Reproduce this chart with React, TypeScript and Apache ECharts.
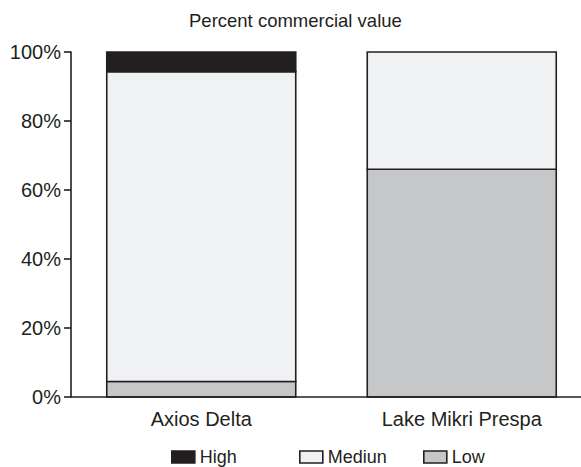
import React, { useEffect, useRef } from "react";
import * as echarts from "echarts";

const categories = ["Axios Delta", "Lake Mikri Prespa"];
const highValues = [5.7, 0];
const mediumValues = [89.8, 34];
const lowValues = [4.5, 66];
const yTicks = [0, 20, 40, 60, 80, 100];

const FONT = "'Liberation Sans', Arial, Helvetica, sans-serif";
const INK = "#231f20";
const LOW_FILL = "#c6c7c9";
const MED_FILL = "#f0f1f3";
const BAR_WIDTH = 189;
const BORDER = 1.6;

export default function App() {
  const ref = useRef<HTMLDivElement>(null);
  useEffect(() => {
    if (!ref.current) return;
    const chart = echarts.init(ref.current, undefined, { renderer: "svg" });

    const makeSeries = (name: string, values: number[], bases: number[], fill: string) => ({
      name,
      type: "custom",
      data: values.map((v, i) => [i, bases[i] + v, bases[i]]),
      encode: { x: 0, y: 1 },
      itemStyle: { color: fill, borderColor: INK, borderWidth: BORDER },
      renderItem: (params: any, api: any) => {
        const cat = api.value(0);
        const top = api.value(1);
        const base = api.value(2);
        if (top - base <= 0) return null;
        const pTop = api.coord([cat, top]);
        const pBase = api.coord([cat, base]);
        return {
          type: "rect",
          shape: {
            x: pTop[0] - BAR_WIDTH / 2,
            y: pTop[1],
            width: BAR_WIDTH,
            height: pBase[1] - pTop[1],
          },
          style: { fill, stroke: INK, lineWidth: BORDER },
        };
      },
    });

    const zeros = categories.map(() => 0);
    const medBase = lowValues.slice();
    const highBase = lowValues.map((v, i) => v + mediumValues[i]);

    const legendBase = {
      orient: "horizontal",
      top: 448,
      padding: 0,
      icon: "rect",
      itemWidth: 23,
      itemHeight: 12,
      textStyle: { fontFamily: FONT, fontSize: 18, color: INK },
    };
    chart.setOption({
      animation: false,
      backgroundColor: "#ffffff",
      title: {
        text: "Percent commercial value",
        left: 189,
        top: 11,
        padding: 0,
        textStyle: { fontFamily: FONT, fontSize: 18.5, fontWeight: "normal", color: INK },
      },
      legend: [
        {
          ...legendBase,
          left: 171,
          data: [{ name: "High", itemStyle: { color: INK, borderColor: INK, borderWidth: BORDER } }],
        },
        {
          ...legendBase,
          left: 299,
          data: [{ name: "Mediun", itemStyle: { color: MED_FILL, borderColor: INK, borderWidth: BORDER } }],
        },
        {
          ...legendBase,
          left: 423,
          data: [{ name: "Low", itemStyle: { color: LOW_FILL, borderColor: INK, borderWidth: BORDER } }],
        },
      ],
      grid: { left: 71, top: 52, bottom: 70, right: -11, outerBoundsMode: "none", containLabel: false },
      xAxis: {
        type: "category",
        data: categories,
        axisLine: { lineStyle: { color: INK, width: BORDER } },
        axisTick: { alignWithLabel: true, length: 7, lineStyle: { color: INK, width: BORDER } },
        axisLabel: { fontFamily: FONT, fontSize: 20, color: INK, margin: 12 },
        z: 10,
      },
      yAxis: {
        type: "value",
        min: yTicks[0],
        max: yTicks[yTicks.length - 1],
        interval: 20,
        splitLine: { show: false },
        axisLine: { show: true, lineStyle: { color: INK, width: BORDER } },
        axisTick: { show: true, length: 7, lineStyle: { color: INK, width: BORDER } },
        axisLabel: { fontFamily: FONT, fontSize: 20, color: INK, margin: 10, formatter: "{value}%" },
      },
      series: [
        makeSeries("Low", lowValues, zeros, LOW_FILL),
        makeSeries("Mediun", mediumValues, medBase, MED_FILL),
        makeSeries("High", highValues, highBase, INK),
      ],
    });
    return () => chart.dispose();
  }, []);
  return (
    <div
      ref={ref}
      style={{ position: "fixed", left: 0, top: 0, width: 581, height: 467, background: "#fff" }}
    />
  );
}
